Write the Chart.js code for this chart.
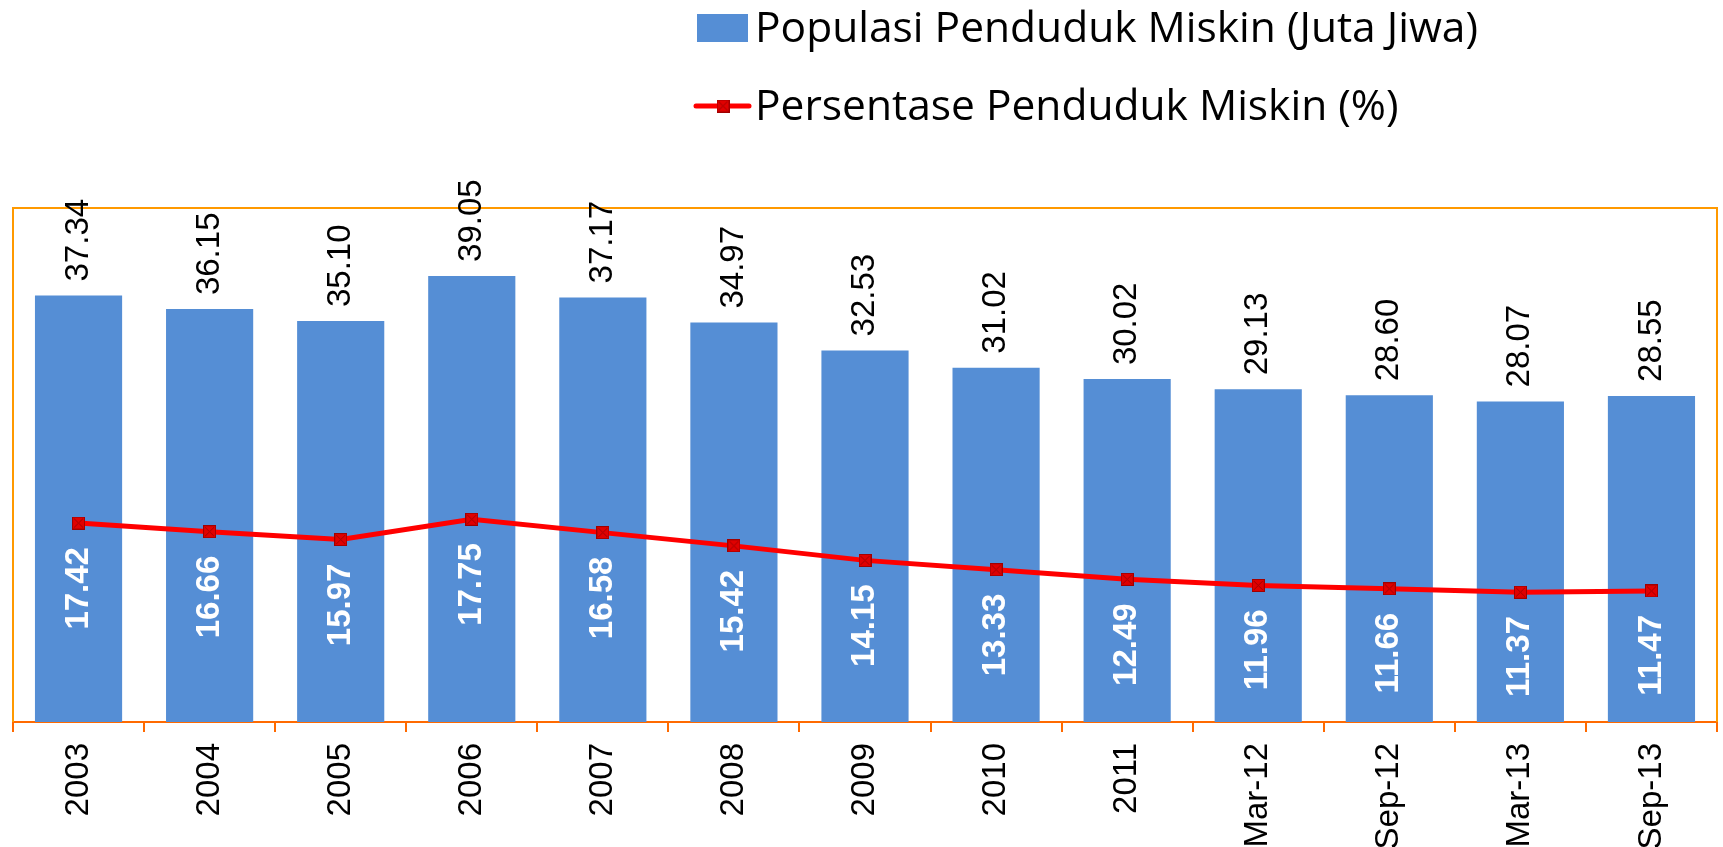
<!DOCTYPE html>
<html>
<head>
<meta charset="utf-8">
<script src="https://cdn.jsdelivr.net/npm/chart.js@4.4.1/dist/chart.umd.min.js"></script>
<style>
  html, body { margin: 0; padding: 0; background: #fff; }
</style>
</head>
<body>
<canvas id="chart" width="1723" height="847"></canvas>
<script>
const categories = ['2003', '2004', '2005', '2006', '2007', '2008', '2009', '2010', '2011', 'Mar-12', 'Sep-12', 'Mar-13', 'Sep-13'];
const populasi = [37.34, 36.15, 35.10, 39.05, 37.17, 34.97, 32.53, 31.02, 30.02, 29.13, 28.60, 28.07, 28.55];
const persentase = [17.42, 16.66, 15.97, 17.75, 16.58, 15.42, 14.15, 13.33, 12.49, 11.96, 11.66, 11.37, 11.47];
const labelPopulasi = 'Populasi Penduduk Miskin (Juta Jiwa)';
const labelPersentase = 'Persentase Penduduk Miskin (%)';

const BLUE = '#558ED5';
const RED = '#FF0000';
const FRAME = '#FF9900';
const AXIS = '#FF6A00';
const ARIAL = '"Liberation Sans", Arial, sans-serif';

// square marker with an x inside, like the excel one
function makeMarker(size) {
  const c = document.createElement('canvas');
  c.width = size;
  c.height = size;
  const g = c.getContext('2d');
  g.fillStyle = '#E00000';
  g.fillRect(0, 0, size, size);
  g.strokeStyle = '#A00000';
  g.lineWidth = 1;
  g.strokeRect(0.5, 0.5, size - 1, size - 1);
  g.beginPath();
  g.moveTo(2, 2); g.lineTo(size - 2, size - 2);
  g.moveTo(size - 2, 2); g.lineTo(2, size - 2);
  g.stroke();
  return c;
}
const marker = makeMarker(13);

const frame = {
  id: 'frame',
  beforeDatasetsDraw(chart) {
    const { ctx, chartArea: a } = chart;
    ctx.save();
    ctx.strokeStyle = FRAME;
    ctx.lineWidth = 2;
    ctx.beginPath();
    ctx.moveTo(a.left, a.bottom);
    ctx.lineTo(a.left, a.top);
    ctx.lineTo(a.right, a.top);
    ctx.lineTo(a.right, a.bottom);
    ctx.stroke();
    ctx.restore();
  }
};

const valueLabels = {
  id: 'valueLabels',
  afterDatasetsDraw(chart) {
    const ctx = chart.ctx;
    const bars = chart.getDatasetMeta(0).data;
    const pts = chart.getDatasetMeta(1).data;
    ctx.save();
    ctx.textBaseline = 'middle';
    bars.forEach((bar, i) => {
      ctx.save();
      ctx.translate(bar.x, bar.y - 14);
      ctx.rotate(-Math.PI / 2);
      ctx.font = '33px ' + ARIAL;
      ctx.fillStyle = '#000';
      ctx.textAlign = 'left';
      ctx.fillText(populasi[i].toFixed(2), 0, 0);
      ctx.restore();
    });
    pts.forEach((pt, i) => {
      ctx.save();
      ctx.translate(pt.x, pt.y + 24);
      ctx.rotate(-Math.PI / 2);
      ctx.font = 'bold 33px ' + ARIAL;
      ctx.fillStyle = '#fff';
      ctx.textAlign = 'right';
      ctx.fillText(persentase[i].toFixed(2), 0, 0);
      ctx.restore();
    });
    ctx.restore();
  }
};

// legend stacked in two rows, drawn by hand
const legendRows = {
  id: 'legendRows',
  afterDraw(chart) {
    const ctx = chart.ctx;
    const ds = chart.data.datasets;
    ctx.save();
    ctx.font = '42.5px "Open Sans", sans-serif';
    ctx.textAlign = 'left';
    ctx.textBaseline = 'alphabetic';

    ctx.fillStyle = BLUE;
    ctx.fillRect(697, 14, 51, 28);
    ctx.fillStyle = '#000';
    ctx.fillText(ds[0].label, 755, 42);

    ctx.strokeStyle = RED;
    ctx.lineWidth = 5;
    ctx.lineCap = 'round';
    ctx.beginPath();
    ctx.moveTo(696, 106);
    ctx.lineTo(749, 106);
    ctx.stroke();
    ctx.drawImage(marker, 723 - 6.5, 106 - 6.5);
    ctx.fillText(ds[1].label, 755, 120);
    ctx.restore();
  }
};

new Chart(document.getElementById('chart'), {
  data: {
    labels: categories,
    datasets: [
      {
        type: 'bar',
        label: labelPopulasi,
        data: populasi,
        backgroundColor: BLUE,
        borderWidth: 0,
        categoryPercentage: 1,
        barPercentage: 0.665,
        order: 2
      },
      {
        type: 'line',
        label: labelPersentase,
        data: persentase,
        borderColor: RED,
        borderWidth: 5,
        pointStyle: marker,
        pointRadius: 7,
        tension: 0,
        order: 1
      }
    ]
  },
  options: {
    responsive: false,
    devicePixelRatio: 1,
    animation: false,
    layout: { autoPadding: false, padding: { left: 13, right: 6, top: 208, bottom: 0 } },
    plugins: {
      legend: { display: false },
      tooltip: { enabled: false }
    },
    scales: {
      x: {
        z: 1,
        offset: true,
        afterFit(scale) {
          scale.height = 125;
          scale.paddingLeft = 0;
          scale.paddingRight = 0;
        },
        grid: {
          display: true,
          offset: true,
          drawOnChartArea: false,
          drawTicks: true,
          tickLength: 10,
          color: AXIS,
          lineWidth: 2
        },
        border: { display: true, color: AXIS, width: 2 },
        ticks: {
          color: '#000',
          font: { family: ARIAL, size: 33 },
          minRotation: 90,
          maxRotation: 90,
          padding: 11,
          autoSkip: false
        }
      },
      y: {
        display: false,
        min: 0,
        max: 45
      }
    }
  },
  plugins: [frame, valueLabels, legendRows]
});
</script>
</body>
</html>
